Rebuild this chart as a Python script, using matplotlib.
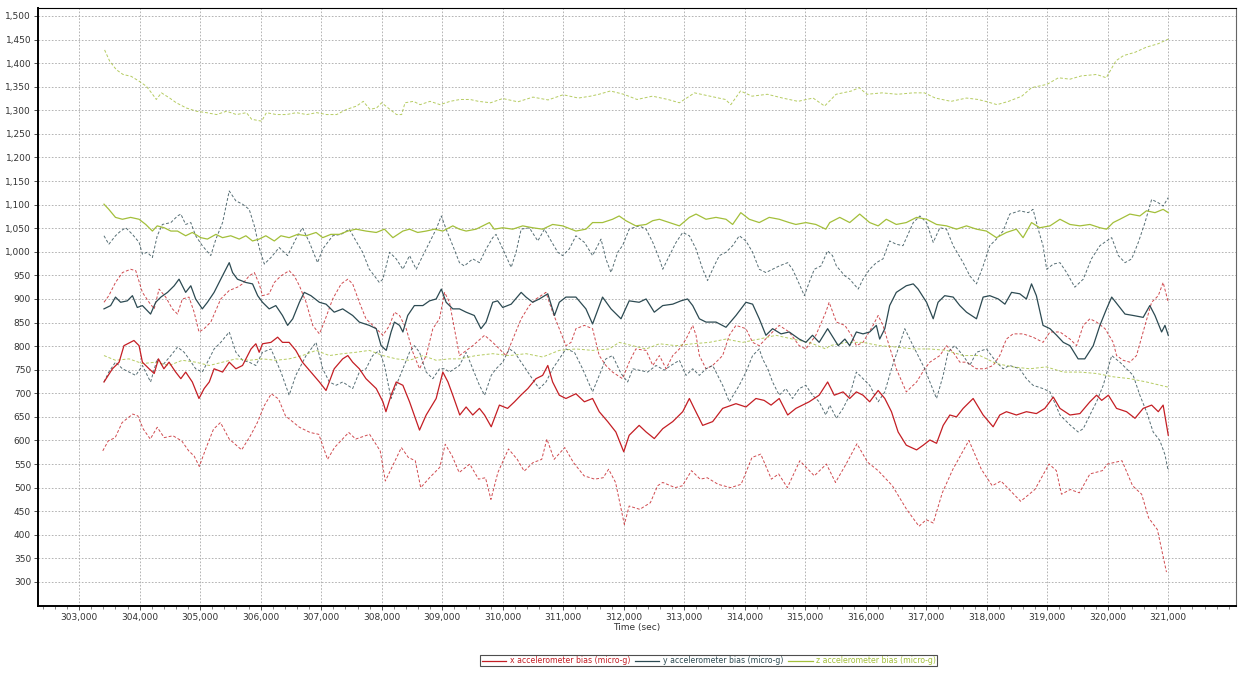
import matplotlib
matplotlib.use("Agg")
import matplotlib.pyplot as plt
from matplotlib.ticker import MultipleLocator, FuncFormatter

# x accelerometer bias (solid) and its upper / lower dashed envelopes
x_t = [303410, 303550, 303660, 303740, 303905, 303990, 304045, 304155, 304240, 304310, 304400, 304485,
       304595, 304680, 304760, 304870, 304980, 305065, 305150, 305230, 305370, 305480, 305590, 305700,
       305840, 305920, 305975, 306030, 306170, 306280, 306360, 306470, 306580, 306690, 306830, 306970,
       307080, 307215, 307355, 307440, 307520, 307630, 307740, 307910, 308020, 308070, 308155, 308240,
       308350, 308460, 308625, 308735, 308900, 309010, 309095, 309175, 309290, 309395, 309505, 309615,
       309700, 309810, 309945, 310080, 310195, 310300, 310415, 310550, 310660, 310745, 310825, 310935,
       311045, 311210, 311350, 311485, 311595, 311735, 311870, 312000, 312090, 312255, 312370, 312505,
       312645, 312810, 312975, 313085, 313165, 313305, 313470, 313635, 313855, 314020, 314185, 314320,
       314435, 314570, 314710, 314845, 315065, 315230, 315370, 315480, 315625, 315735, 315845, 315955,
       316065, 316205, 316315, 316425, 316535, 316670, 316840, 316950, 317060, 317170, 317280, 317390,
       317500, 317610, 317775, 317940, 318105, 318215, 318325, 318490, 318655, 318820, 318960, 319100,
       319210, 319375, 319540, 319705, 319815, 319900, 320010, 320145, 320310, 320450, 320585, 320725,
       320835, 320915, 321000]
x_bias = [724, 752, 766, 801, 812, 801, 766, 752, 742, 773, 752, 766,
          745, 731, 745, 724, 689, 710, 724, 752, 745, 766, 752, 759,
          794, 805, 787, 805, 808, 819, 808, 808, 791, 766, 745, 724,
          706, 752, 773, 780, 766, 752, 731, 710, 682, 661, 696, 724,
          717, 682, 622, 654, 689, 745, 724, 696, 654, 671, 654, 668,
          654, 629, 675, 668, 682, 696, 710, 731, 738, 759, 724, 696,
          689, 699, 682, 689, 661, 640, 618, 576, 611, 632, 618, 604,
          625, 640, 661, 689, 668, 632, 640, 668, 678, 671, 689, 685,
          675, 689, 654, 668, 682, 696, 724, 696, 703, 689, 703, 696,
          682, 706, 689, 661, 618, 590, 580, 590, 601, 594, 632, 654,
          650, 668, 689, 654, 629, 654, 661, 654, 661, 657, 668, 692,
          668, 654, 657, 682, 696, 685, 696, 668, 661, 647, 668, 675,
          661, 675, 611]

x_hi_t = [303410, 303490, 303600, 303715, 303850, 303935, 304045, 304155, 304240, 304320, 304430, 304540,
          304625, 304705, 304815, 304900, 304980, 305065, 305175, 305340, 305480, 305615, 305700, 305810,
          305895, 305975, 306030, 306140, 306225, 306335, 306470, 306555, 306640, 306750, 306860, 306970,
          307050, 307190, 307330, 307440, 307520, 307630, 307740, 307910, 308020, 308130, 308210, 308295,
          308405, 308515, 308625, 308735, 308845, 308955, 309040, 309120, 309285, 309505, 309700, 309835,
          310055, 310305, 310440, 310550, 310715, 310825, 310935, 311045, 311130, 311210, 311350, 311485,
          311595, 311705, 311815, 311980, 312090, 312200, 312370, 312480, 312590, 312700, 312810, 312920,
          313030, 313140, 313195, 313250, 313360, 313470, 313635, 313745, 313855, 314020, 314130, 314240,
          314405, 314570, 314735, 314900, 315010, 315175, 315340, 315395, 315515, 315655, 315765, 315845,
          315955, 316120, 316205, 316285, 316370, 316505, 316670, 316840, 316975, 317060, 317225, 317335,
          317445, 317555, 317665, 317830, 317970, 318105, 318215, 318325, 318435, 318600, 318765, 318930,
          319045, 319210, 319375, 319485, 319595, 319705, 319815, 319955, 320090, 320145, 320255, 320365,
          320475, 320615, 320725, 320835, 320915, 321000]
x_hi = [893, 907, 935, 956, 963, 960, 914, 893, 879, 921, 904, 879,
        868, 900, 904, 872, 830, 837, 851, 900, 918, 925, 932, 949,
        956, 932, 907, 911, 935, 949, 960, 949, 928, 893, 844, 826,
        851, 900, 932, 942, 932, 893, 858, 837, 823, 844, 872, 865,
        837, 787, 752, 780, 837, 858, 914, 893, 780, 801, 823, 808,
        780, 858, 886, 900, 914, 872, 837, 801, 808, 837, 844, 837,
        780, 759, 745, 731, 766, 794, 791, 759, 780, 752, 780, 794,
        815, 844, 823, 780, 752, 759, 780, 823, 844, 837, 808, 801,
        823, 844, 830, 801, 794, 823, 872, 893, 851, 844, 823, 801,
        808, 844, 865, 844, 808, 752, 703, 724, 752, 766, 780, 801,
        787, 766, 766, 752, 752, 759, 780, 815, 826, 826, 819, 808,
        830, 830, 815, 801, 844, 858, 851, 837, 808, 780, 770, 766,
        780, 844, 893, 907, 935, 893]

x_lo_t = [303390, 303480, 303595, 303710, 303885, 303970, 304060, 304175, 304290, 304405, 304550, 304695,
          304810, 304900, 304985, 305100, 305220, 305335, 305480, 305685, 305830, 305945, 306060, 306175,
          306295, 306410, 306640, 306815, 306960, 307105, 307220, 307455, 307570, 307800, 307975, 308060,
          308180, 308325, 308440, 308555, 308645, 308790, 308960, 309050, 309165, 309280, 309455, 309600,
          309715, 309805, 309920, 310095, 310240, 310355, 310500, 310645, 310730, 310850, 311025, 311170,
          311345, 311520, 311660, 311750, 311865, 312010, 312090, 312265, 312440, 312560, 312645, 312850,
          312970, 313120, 313265, 313380, 313560, 313765, 313940, 314120, 314265, 314440, 314560, 314705,
          314910, 315150, 315350, 315500, 315675, 315855, 316030, 316205, 316440, 316675, 316880, 317000,
          317115, 317265, 317440, 317705, 317910, 318090, 318235, 318560, 318795, 319030, 319150, 319235,
          319380, 319530, 319705, 319910, 319995, 320235, 320410, 320560, 320675, 320820, 320970]
x_lo = [578, 599, 606, 638, 656, 652, 624, 603, 628, 606, 610, 599,
        578, 567, 545, 585, 624, 638, 603, 580, 610, 638, 674, 699,
        688, 652, 628, 617, 613, 560, 585, 617, 603, 613, 578, 514,
        546, 585, 564, 557, 500, 521, 543, 592, 567, 532, 550, 518,
        521, 475, 532, 582, 560, 535, 553, 560, 603, 560, 585, 553,
        525, 518, 521, 539, 511, 422, 461, 454, 468, 504, 511, 500,
        504, 536, 518, 521, 507, 500, 507, 564, 571, 518, 529, 500,
        557, 525, 550, 511, 550, 593, 554, 536, 504, 454, 418, 432,
        425, 489, 539, 600, 539, 504, 514, 471, 496, 550, 536, 486,
        496, 489, 529, 536, 550, 557, 504, 486, 436, 411, 321]

# y accelerometer bias
y_t = [303410, 303520, 303600, 303685, 303795, 303880, 303960, 304045, 304180, 304265, 304350, 304460,
       304570, 304650, 304760, 304845, 304925, 305035, 305120, 305230, 305340, 305425, 305480, 305535,
       305615, 305755, 305865, 305950, 306030, 306140, 306250, 306360, 306445, 306530, 306640, 306720,
       306830, 306970, 307080, 307215, 307355, 307520, 307630, 307795, 307910, 307990, 308075, 308155,
       308210, 308295, 308350, 308430, 308540, 308680, 308790, 308900, 308985, 309065, 309175, 309285,
       309395, 309530, 309640, 309725, 309835, 309915, 310000, 310140, 310305, 310385, 310495, 310605,
       310745, 310855, 310935, 311045, 311210, 311375, 311485, 311650, 311790, 311955, 312090, 312255,
       312370, 312505, 312645, 312810, 312945, 313055, 313140, 313250, 313360, 313525, 313690, 313855,
       314020, 314130, 314240, 314350, 314460, 314600, 314735, 314900, 315010, 315120, 315230, 315370,
       315545, 315655, 315735, 315845, 315955, 316065, 316175, 316230, 316315, 316395, 316505, 316670,
       316785, 316865, 317005, 317115, 317195, 317305, 317445, 317555, 317665, 317830, 317940, 318050,
       318190, 318300, 318410, 318545, 318655, 318740, 318820, 318930, 319045, 319155, 319265, 319375,
       319510, 319620, 319760, 319870, 319980, 320065, 320175, 320285, 320420, 320585, 320695, 320780,
       320890, 320945, 321000]
y_bias = [879, 886, 904, 893, 896, 907, 882, 886, 868, 893, 904, 914,
          928, 942, 914, 928, 900, 879, 893, 914, 942, 963, 977, 956,
          942, 935, 932, 907, 893, 879, 886, 865, 844, 858, 893, 914,
          907, 893, 889, 872, 879, 865, 851, 844, 837, 801, 791, 830,
          851, 844, 830, 865, 886, 886, 896, 900, 921, 893, 879, 879,
          872, 865, 837, 851, 893, 896, 882, 889, 914, 904, 893, 900,
          911, 865, 893, 904, 904, 879, 847, 904, 879, 858, 896, 893,
          900, 872, 886, 889, 896, 900, 886, 858, 851, 851, 840, 865,
          893, 889, 858, 823, 837, 826, 830, 815, 808, 823, 808, 837,
          801, 815, 801, 830, 826, 830, 844, 815, 837, 886, 914, 928,
          932, 921, 893, 858, 893, 907, 904, 886, 872, 858, 904, 907,
          900, 889, 914, 911, 900, 932, 907, 844, 837, 823, 808, 801,
          773, 773, 801, 844, 879, 904, 886, 868, 865, 861, 886, 865,
          830, 844, 823]

y_hi_t = [303410, 303490, 303600, 303685, 303770, 303880, 303990, 304045, 304125, 304210, 304290, 304375,
          304515, 304625, 304680, 304760, 304845, 304925, 305035, 305175, 305260, 305370, 305480, 305590,
          305700, 305810, 305895, 305975, 306060, 306170, 306305, 306445, 306580, 306690, 306805, 306940,
          307025, 307190, 307330, 307465, 307575, 307685, 307795, 307880, 307960, 308020, 308130, 308240,
          308350, 308460, 308570, 308680, 308790, 308900, 308985, 309065, 309175, 309285, 309365, 309505,
          309615, 309725, 309835, 309890, 310000, 310140, 310220, 310305, 310440, 310580, 310690, 310800,
          310910, 310990, 311100, 311210, 311350, 311485, 311625, 311705, 311790, 311900, 311980, 312090,
          312255, 312370, 312480, 312590, 312645, 312755, 312865, 312975, 313085, 313195, 313305, 313385,
          313495, 313580, 313690, 313800, 313910, 314020, 314130, 314240, 314350, 314460, 314570, 314710,
          314790, 314900, 314985, 315065, 315150, 315260, 315370, 315450, 315515, 315655, 315735, 315875,
          315955, 316065, 316175, 316285, 316395, 316505, 316615, 316785, 316895, 317005, 317115, 317225,
          317335, 317445, 317610, 317720, 317830, 317940, 318050, 318160, 318270, 318380, 318545, 318685,
          318765, 318850, 318930, 318990, 319100, 319210, 319320, 319455, 319595, 319730, 319870, 319980,
          320065, 320175, 320285, 320395, 320505, 320615, 320725, 320835, 320915, 321000]
y_hi = [1034, 1016, 1034, 1044, 1051, 1037, 1020, 995, 999, 988, 1034, 1058,
        1062, 1076, 1080, 1058, 1062, 1034, 1013, 992, 1027, 1062, 1129, 1108,
        1101, 1090, 1055, 1009, 974, 988, 1009, 992, 1027, 1051, 1020, 977,
        1006, 1034, 1037, 1048, 1023, 999, 963, 949, 935, 942, 999, 985,
        963, 992, 963, 992, 1020, 1048, 1076, 1048, 1013, 977, 970, 985,
        977, 1006, 1030, 1037, 1006, 967, 999, 1048, 1051, 1023, 1048, 1023,
        999, 992, 1006, 1034, 1020, 992, 1027, 985, 956, 999, 1013, 1048,
        1055, 1048, 1020, 985, 963, 992, 1020, 1041, 1034, 1006, 963, 939,
        970, 992, 999, 1013, 1034, 1023, 999, 963, 956, 963, 970, 977,
        963, 932, 907, 935, 963, 970, 1002, 992, 970, 949, 942, 921,
        942, 963, 977, 985, 1023, 1016, 1013, 1062, 1076, 1062, 1020, 1051,
        1048, 1013, 977, 949, 932, 970, 1013, 1027, 1044, 1080, 1087, 1083,
        1090, 1048, 1013, 963, 974, 977, 956, 925, 942, 985, 1013, 1023,
        1030, 992, 977, 985, 1020, 1062, 1111, 1104, 1097, 1115]

y_lo_t = [303410, 303490, 303600, 303715, 303825, 303935, 304045, 304180, 304290, 304375, 304515, 304625,
          304735, 304815, 304925, 305035, 305120, 305230, 305340, 305480, 305590, 305700, 305810, 305920,
          306030, 306170, 306335, 306470, 306580, 306750, 306915, 307025, 307135, 307245, 307355, 307520,
          307630, 307740, 307850, 307960, 308045, 308155, 308240, 308350, 308460, 308540, 308625, 308735,
          308845, 308955, 309040, 309120, 309285, 309395, 309505, 309615, 309700, 309810, 309890, 310000,
          310110, 310195, 310305, 310415, 310525, 310605, 310715, 310825, 310935, 311045, 311185, 311320,
          311485, 311595, 311705, 311815, 311955, 312065, 312150, 312255, 312395, 312535, 312670, 312780,
          312920, 313030, 313140, 313250, 313360, 313470, 313635, 313745, 313910, 314020, 314130, 314240,
          314295, 314380, 314460, 314570, 314680, 314790, 314900, 315010, 315120, 315230, 315340, 315405,
          315515, 315625, 315735, 315845, 315955, 316065, 316205, 316315, 316425, 316535, 316645, 316755,
          316865, 316975, 317060, 317170, 317280, 317360, 317470, 317610, 317720, 317830, 317995, 318160,
          318270, 318380, 318545, 318655, 318765, 318930, 319045, 319210, 319375, 319510, 319595, 319705,
          319815, 319925, 320065, 320200, 320310, 320420, 320530, 320640, 320750, 320860, 320945, 321000]
y_lo = [724, 745, 766, 752, 745, 738, 759, 724, 773, 759, 780, 798,
        787, 773, 752, 745, 766, 794, 808, 830, 787, 770, 766, 759,
        787, 794, 745, 696, 738, 780, 808, 752, 724, 717, 724, 710,
        745, 752, 780, 791, 759, 689, 717, 752, 787, 801, 787, 745,
        731, 752, 752, 745, 759, 787, 752, 717, 696, 738, 752, 766,
        794, 787, 766, 745, 724, 710, 724, 752, 773, 794, 787, 752,
        703, 738, 773, 780, 742, 724, 752, 749, 745, 759, 749, 759,
        770, 738, 752, 738, 752, 759, 717, 682, 717, 745, 780, 794,
        773, 752, 724, 696, 710, 689, 710, 717, 696, 682, 654, 675,
        647, 668, 696, 745, 731, 717, 682, 703, 752, 794, 837, 808,
        780, 752, 724, 689, 738, 787, 801, 780, 759, 787, 794, 766,
        752, 759, 752, 731, 717, 710, 703, 654, 633, 618, 625, 654,
        682, 717, 780, 766, 752, 738, 696, 661, 618, 600, 570, 535]

# z accelerometer bias
z_t = [303410, 303490, 303600, 303715, 303850, 303990, 304100, 304210, 304290, 304405, 304515, 304625,
       304760, 304870, 305010, 305120, 305260, 305370, 305505, 305645, 305755, 305865, 305975, 306085,
       306225, 306335, 306470, 306610, 306750, 306915, 307025, 307160, 307300, 307440, 307575, 307740,
       307910, 308045, 308185, 308350, 308460, 308595, 308735, 308875, 309010, 309175, 309285, 309395,
       309560, 309780, 309860, 310000, 310165, 310330, 310495, 310660, 310825, 310990, 311210, 311375,
       311485, 311650, 311815, 311925, 312035, 312200, 312370, 312480, 312590, 312755, 312920, 313085,
       313195, 313360, 313525, 313690, 313800, 313935, 314075, 314240, 314405, 314570, 314735, 314845,
       315010, 315175, 315340, 315405, 315570, 315735, 315900, 316065, 316205, 316340, 316505, 316670,
       316840, 317005, 317170, 317335, 317500, 317665, 317830, 317995, 318160, 318325, 318490, 318600,
       318740, 318875, 319045, 319210, 319375, 319540, 319705, 319870, 319980, 320090, 320200, 320365,
       320530, 320640, 320780, 320915, 321000]
z_bias = [1101, 1090, 1073, 1069, 1073, 1069, 1058, 1044, 1055, 1051, 1044, 1044,
          1034, 1041, 1030, 1027, 1037, 1030, 1034, 1027, 1034, 1023, 1027, 1034,
          1023, 1034, 1030, 1037, 1034, 1041, 1030, 1037, 1037, 1044, 1048, 1044,
          1041, 1048, 1030, 1044, 1048, 1041, 1044, 1048, 1044, 1055, 1048, 1044,
          1048, 1062, 1048, 1051, 1048, 1055, 1051, 1048, 1058, 1055, 1044, 1048,
          1062, 1062, 1069, 1076, 1066, 1055, 1058, 1066, 1069, 1062, 1055, 1073,
          1080, 1069, 1073, 1069, 1058, 1083, 1069, 1062, 1073, 1069, 1062, 1058,
          1062, 1058, 1048, 1062, 1073, 1062, 1080, 1062, 1055, 1069, 1058, 1062,
          1073, 1069, 1058, 1055, 1048, 1055, 1048, 1044, 1030, 1041, 1048, 1030,
          1062, 1051, 1055, 1069, 1058, 1055, 1058, 1051, 1048, 1062, 1069, 1080,
          1076, 1087, 1083, 1090, 1083]

z_hi_t = [303420, 303505, 303615, 303725, 303860, 304000, 304110, 304195, 304275, 304360, 304495, 304605,
          304770, 304940, 305105, 305270, 305435, 305600, 305765, 305850, 306015, 306095, 306260, 306425,
          306590, 306760, 306925, 307090, 307255, 307420, 307585, 307695, 307805, 307915, 308000, 308135,
          308245, 308330, 308385, 308525, 308635, 308800, 308965, 309130, 309295, 309460, 309600, 309800,
          310000, 310250, 310500, 310750, 311000, 311250, 311450, 311590, 311780, 312000, 312220, 312475,
          312730, 312920, 313170, 313425, 313680, 313770, 313930, 314120, 314375, 314625, 314880, 315130,
          315320, 315510, 315765, 315890, 316020, 316270, 316525, 316780, 316970, 317150, 317410, 317665,
          317855, 317980, 318170, 318360, 318580, 318740, 318995, 319185, 319375, 319565, 319815, 319975,
          320135, 320260, 320450, 320640, 320830, 321000]
z_hi = [1428, 1404, 1386, 1376, 1372, 1361, 1351, 1337, 1323, 1337, 1326, 1316,
        1305, 1298, 1295, 1291, 1298, 1291, 1295, 1281, 1277, 1295, 1291, 1291,
        1295, 1291, 1295, 1291, 1291, 1302, 1309, 1319, 1302, 1305, 1316, 1302,
        1291, 1291, 1316, 1319, 1312, 1319, 1312, 1319, 1323, 1323, 1319, 1316,
        1325, 1318, 1328, 1322, 1333, 1326, 1330, 1334, 1341, 1334, 1323, 1330,
        1323, 1316, 1337, 1330, 1323, 1312, 1341, 1330, 1334, 1326, 1319, 1326,
        1309, 1334, 1341, 1348, 1334, 1337, 1334, 1337, 1337, 1326, 1319, 1326,
        1323, 1319, 1312, 1319, 1330, 1348, 1355, 1369, 1366, 1373, 1376, 1369,
        1405, 1416, 1423, 1434, 1441, 1451]

z_lo_t = [303410, 303600, 303825, 304045, 304265, 304485, 304705, 304925, 305150, 305370, 305590, 305810,
          306030, 306250, 306470, 306690, 306915, 307135, 307355, 307575, 307795, 308020, 308240, 308460,
          308680, 308900, 309120, 309285, 309560, 309835, 310110, 310385, 310660, 310935, 311210, 311485,
          311760, 311925, 312145, 312370, 312590, 312865, 313140, 313415, 313690, 313965, 314240, 314515,
          314790, 315065, 315340, 315405, 315680, 315955, 316230, 316505, 316785, 317060, 317335, 317610,
          317885, 318160, 318435, 318710, 318985, 319265, 319540, 319815, 320090, 320365, 320640, 321000]
z_lo = [780, 770, 773, 763, 766, 759, 770, 766, 759, 766, 773, 770,
        773, 770, 773, 780, 791, 780, 784, 787, 791, 780, 773, 770,
        780, 770, 773, 773, 780, 784, 780, 784, 777, 791, 794, 791,
        794, 808, 801, 794, 805, 801, 805, 808, 815, 808, 815, 823,
        815, 808, 794, 801, 808, 808, 801, 798, 794, 794, 791, 780,
        780, 763, 756, 752, 756, 745, 745, 742, 735, 731, 724, 713]

labels = ["x accelerometer bias (micro-g)", "y accelerometer bias (micro-g)",
          "z accelerometer bias (micro-g)"]
x_ticks = list(range(303000, 321001, 1000))
y_ticks = list(range(300, 1501, 50))

red = "#c41e24"
slate = "#2c4a52"
green = "#a3bf3a"

fig = plt.figure(figsize=(12.43, 6.75), dpi=100)
ax = fig.add_axes([0.0306, 0.1022, 0.9638, 0.8860])

dash = (0, (3, 2))
ax.plot(x_hi_t, x_hi, color=red, lw=0.7, ls=dash, alpha=0.8)
ax.plot(x_lo_t, x_lo, color=red, lw=0.7, ls=dash, alpha=0.8)
ax.plot(y_hi_t, y_hi, color=slate, lw=0.7, ls=dash, alpha=0.8)
ax.plot(y_lo_t, y_lo, color=slate, lw=0.7, ls=dash, alpha=0.8)
ax.plot(z_hi_t, z_hi, color=green, lw=0.7, ls=dash, alpha=0.8)
ax.plot(z_lo_t, z_lo, color=green, lw=0.7, ls=dash, alpha=0.8)
lx, = ax.plot(x_t, x_bias, color=red, lw=0.9)
ly, = ax.plot(y_t, y_bias, color=slate, lw=0.9)
lz, = ax.plot(z_t, z_bias, color=green, lw=0.9)

ax.set_xlim(302320, 322120)
ax.set_ylim(249, 1517)
ax.set_xticks(x_ticks)
ax.set_yticks(y_ticks)
ax.xaxis.set_minor_locator(MultipleLocator(200))
fmt = FuncFormatter(lambda v, p: f"{int(v):,}")
ax.xaxis.set_major_formatter(fmt)
ax.yaxis.set_major_formatter(fmt)

ax.grid(True, which="major", color="#a8a8a8", ls=(0, (2, 2)), lw=0.6)
ax.tick_params(axis="both", which="major", labelsize=6.5, colors="#333333", length=3, width=0.6, pad=2)
ax.tick_params(axis="x", which="minor", length=2, width=0.5, color="#555555")
for s in ax.spines.values():
    s.set_linewidth(0.8)
ax.spines["left"].set_linewidth(1.4)
ax.spines["bottom"].set_linewidth(1.4)
ax.spines["right"].set_color("#666666")
ax.set_xlabel("Time (sec)", fontsize=6.5, color="#333333", labelpad=1)

leg = fig.legend([lx, ly, lz], labels, loc="center", bbox_to_anchor=(0.570, 0.021), ncol=3,
                 fontsize=5.6, frameon=True, fancybox=False, edgecolor="#222222",
                 handlelength=3.2, handletextpad=0.4, columnspacing=0.6, borderpad=0.15,
                 labelcolor=[red, slate, green])
leg.get_frame().set_linewidth(0.8)

fig.savefig("out.png", dpi=100)
